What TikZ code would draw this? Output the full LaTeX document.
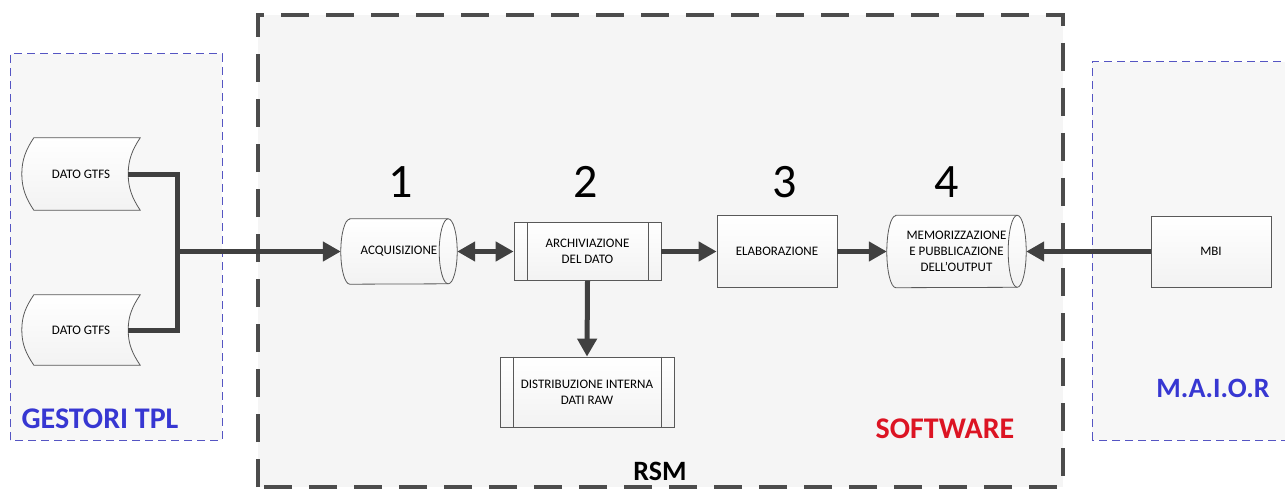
\documentclass[tikz,border=0pt]{standalone}
\usepackage{fontspec}
\setmainfont{Carlito}
\usetikzlibrary{arrows.meta,calc}

\definecolor{frameblue}{RGB}{85,85,195}
\definecolor{labelblue}{RGB}{55,55,210}
\definecolor{labelred}{RGB}{220,20,35}
\definecolor{linegray}{RGB}{64,64,64}
\definecolor{zonegray}{RGB}{245,245,245}

\pgfdeclarelayer{zones}
\pgfdeclarelayer{shapes}
\pgfsetlayers{zones,shapes,main}

\tikzstyle{bare block}=[rectangle,inner sep=0pt,align=center,font=\fontsize{13}{16}\selectfont]
\tikzstyle{block}=[bare block,draw=black!65,line width=0.8pt,top color=white,bottom color=black!5]
\tikzstyle{outline}=[draw=black!65,line width=0.8pt,top color=white,bottom color=black!5]
\tikzstyle{outline line}=[draw=black!65,line width=0.8pt]
\tikzstyle{flow}=[draw,line width=5pt,linegray]
\tikzstyle{flow arrow}=[flow,-{Triangle[length=18pt,width=19pt]}]
\tikzstyle{zone}=[draw=frameblue,dash pattern=on 8pt off 5pt,line width=1pt,fill=black!3]
\tikzstyle{rsm zone}=[draw=black!70,dash pattern=on 28pt off 17pt,line width=4pt,fill=zonegray]
\tikzstyle{zone label}=[anchor=base,font=\fontsize{30}{30}\selectfont\bfseries]
\tikzstyle{phase}=[anchor=base,font=\fontsize{48}{48}\selectfont]

% stored data outline round a bare block
\newcommand{\storeddata}[1]{%
  \path[outline] ($(#1.north west)+(12,0)$) -- (#1.north east)
    .. controls ($(#1.north east)+(-8,-12)$) and ($(#1.east)+(-12,14)$) .. ($(#1.east)+(-12,0)$)
    .. controls ($(#1.east)+(-12,-14)$) and ($(#1.south east)+(-8,12)$) .. (#1.south east)
    -- ($(#1.south west)+(12,0)$)
    .. controls ($(#1.south west)+(4,12)$) and ($(#1.west)+(0,-14)$) .. (#1.west)
    .. controls ($(#1.west)+(0,14)$) and ($(#1.north west)+(4,-12)$) .. cycle;}
% lying drum outline round a bare block
\newcommand{\drumshape}[2]{%
  \path[outline] ($(#1.north west)+(9,0)$) -- ($(#1.north east)+(-9,0)$)
    arc[start angle=90,end angle=-90,x radius=9pt,y radius=#2pt]
    -- ($(#1.south west)+(9,0)$)
    arc[start angle=270,end angle=90,x radius=9pt,y radius=#2pt] -- cycle;
  \draw[outline line] ($(#1.north east)+(-9,0)$)
    arc[start angle=90,end angle=270,x radius=9pt,y radius=#2pt];}
% inner lines of a process block
\newcommand{\sidelines}[1]{%
  \draw[outline line] ($(#1.north west)+(14,0)$) -- ($(#1.south west)+(14,0)$);
  \draw[outline line] ($(#1.north east)+(-13,0)$) -- ($(#1.south east)+(-13,0)$);}

\begin{document}
\begin{tikzpicture}[x=1pt,y=1pt]
	\useasboundingbox (0,0) rectangle (1285,491);
	% the three zones
	\begin{pgfonlayer}{zones}
		\draw[zone] (10,51) rectangle (222,437);
		\draw[zone] (1092,51) rectangle (1300,429);
		\draw[rsm zone] (258,4) rectangle (1063,476);
	\end{pgfonlayer}

	\node[bare block,minimum width=118pt,minimum height=72pt] (gtfs1) at (81,317) {DATO GTFS};
	\node[bare block,minimum width=118pt,minimum height=70pt] (gtfs2) at (81,161) {DATO GTFS};
	\node[bare block,minimum width=116pt,minimum height=65pt] (acq) at (399,239.5) {ACQUISIZIONE};
	\node[block,minimum width=147pt,minimum height=58pt] (arch) at (587.5,239.5) {ARCHIVIAZIONE\\DEL DATO};
	\node[block,minimum width=174pt,minimum height=70pt] (dist) at (587,99) {DISTRIBUZIONE INTERNA\\DATI RAW};
	\node[block,minimum width=120pt,minimum height=72pt] (elab) at (777,239.5) {ELABORAZIONE};
	\node[bare block,minimum width=139pt,minimum height=72pt] (memo) at (956.5,239.5) {MEMORIZZAZIONE\\E PUBBLICAZIONE\\DELL'OUTPUT};
	\node[block,minimum width=120pt,minimum height=71pt] (mbi) at (1211,239.5) {MBI};

	\begin{pgfonlayer}{shapes}
		\storeddata{gtfs1}
		\storeddata{gtfs2}
		\drumshape{acq}{32.5}
		\drumshape{memo}{36}
	\end{pgfonlayer}
	\sidelines{arch}
	\sidelines{dist}

	% phase numbers
	\foreach \n/\x in {1/401,2/586,3/785,4/947}
		\node[phase] (num\n) at (\x,294) {\n};

	% zone labels
	\node[zone label,text=labelblue] (gestori) at (100,63) {GESTORI TPL};
	\node[zone label,text=labelred] (software) at (945,53) {SOFTWARE};
	\node[zone label,font=\fontsize{28}{28}\selectfont\bfseries] (rsm) at (660,11) {RSM};
	\node[zone label,text=labelblue,font=\fontsize{28}{28}\selectfont\bfseries] (maior) at (1213,94) {M.A.I.O.R};

	% connectors
	\coordinate (join) at (177,239.5);
	\draw[flow] ([xshift=-12pt]gtfs1.east) -| (join);
	\draw[flow] ([xshift=-12pt]gtfs2.east) -| (join);
	\draw[flow arrow] (join) -- (acq.west);
	\draw[flow,{Triangle[length=18pt,width=19pt]}-{Triangle[length=18pt,width=19pt]}] (acq.east) -- (arch.west);
	\draw[flow arrow] (arch.east) -- (elab.west);
	\draw[flow arrow] (arch.south) -- (dist.north);
	\draw[flow arrow] (elab.east) -- (memo.west);
	\draw[flow arrow] (mbi.west) -- (memo.east);
\end{tikzpicture}
\end{document}
